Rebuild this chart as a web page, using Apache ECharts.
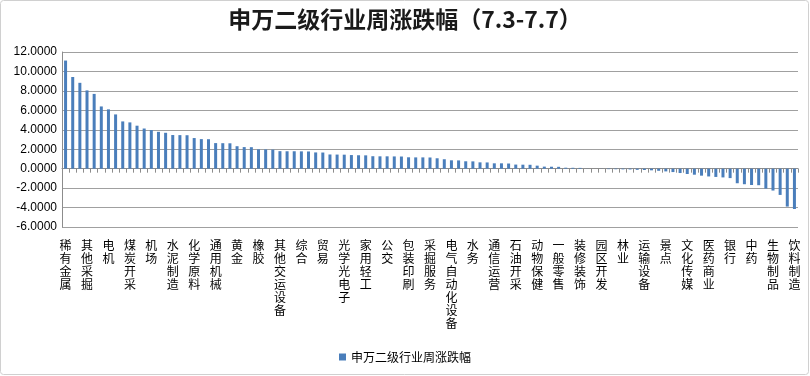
<!DOCTYPE html>
<html>
<head>
<meta charset="utf-8">
<script src="https://cdn.jsdelivr.net/npm/echarts@6/dist/echarts.min.js"></script>
<style>
  html, body { margin: 0; padding: 0; background: #fff; }
  #chart { width: 810px; height: 376px; }
</style>
</head>
<body>
<div id="chart"></div>
<script>
// 申万二级行业, sorted by weekly change
var industries = [
  '稀有金属', '工业金属', '金属非金属新材料', '其他采掘', '钢铁', '电源设备',
  '电机', '高低压设备', '玻璃制造', '煤炭开采', '石油化工', '化学纤维',
  '机场', '其他建材', '化学制品', '水泥制造', '塑料', '专用设备',
  '化学原料', '航空运输', '航运', '通用机械', '港口', '金属制品',
  '黄金', '仪器仪表', '汽车零部件', '橡胶', '汽车整车', '造纸',
  '其他交运设备', '电子制造', '元件', '综合', '半导体', '高速公路',
  '贸易', '其他电子', '铁路运输', '光学光电子', '白色家电', '视听器材',
  '家用轻工', '物流', '房地产开发', '公交', '纺织制造', '服装家纺',
  '包装印刷', '燃气', '电力', '采掘服务', '环保工程及服务', '专业零售',
  '电气自动化设备', '商业物业经营', '汽车服务', '水务', '基础建设', '房屋建设',
  '通信运营', '专业工程', '园林工程', '石油开采', '航天装备', '航空装备',
  '动物保健', '地面兵装', '船舶制造', '一般零售', '证券', '保险',
  '装修装饰', '多元金融', '种植业', '园区开发', '渔业', '饲料',
  '林业', '农产品加工', '农业综合', '运输设备', '畜禽养殖', '酒店',
  '景点', '旅游综合', '餐饮', '文化传媒', '其他休闲服务', '计算机设备',
  '医药商业', '计算机应用', '营销传播', '银行', '互联网传媒', '通信设备',
  '中药', '化学制药', '医疗器械', '生物制品', '医疗服务', '食品加工',
  '饮料制造'
];

var weeklyChange = [
  11.12, 9.43, 8.83, 8.05, 7.69, 6.40, 6.10, 5.58, 4.86, 4.76,
  4.42, 4.13, 3.97, 3.79, 3.69, 3.46, 3.45, 3.44, 3.15, 3.04,
  3.03, 2.63, 2.62, 2.61, 2.31, 2.22, 2.21, 1.99, 1.98, 1.96,
  1.80, 1.79, 1.79, 1.78, 1.77, 1.67, 1.66, 1.46, 1.45, 1.44,
  1.40, 1.38, 1.37, 1.28, 1.27, 1.27, 1.26, 1.25, 1.17, 1.16,
  1.16, 1.15, 1.07, 0.97, 0.86, 0.85, 0.76, 0.75, 0.65, 0.64,
  0.55, 0.55, 0.53, 0.42, 0.41, 0.40, 0.31, 0.21, 0.20, 0.19,
  0.10, 0.09, 0.08, 0.01, 0.00, -0.01, -0.05, -0.06, -0.07, -0.08,
  -0.12, -0.14, -0.17, -0.22, -0.28, -0.35, -0.45, -0.55, -0.62, -0.72,
  -0.80, -0.85, -0.90, -0.97, -1.50, -1.60, -1.68, -1.70, -2.05, -2.25,
  -2.70, -3.90, -4.15
];

var yTicks = { min: -6, max: 12, step: 2 };

var cjk = '"Noto Sans CJK SC", "Microsoft YaHei", sans-serif';

var chart = echarts.init(document.getElementById('chart'));

chart.setOption({
    backgroundColor: '#fff',
    animation: false,
    title: {
        text: '申万二级行业周涨跌幅（7.3-7.7）',
        left: 'center',
        top: 3,
        textStyle: {
            fontFamily: cjk,
            fontSize: 23,
            fontWeight: 'bold',
            color: '#1a1a1a'
        }
    },
    graphic: [{
        type: 'rect',
        shape: { x: 0.5, y: 0.5, width: 808, height: 374, r: 3 },
        style: { fill: 'none', stroke: '#d0d0d0', lineWidth: 1 },
        silent: true
    }],
    legend: {
        bottom: 8,
        left: 'center',
        itemWidth: 7,
        itemHeight: 7,
        icon: 'rect',
        textStyle: { fontFamily: cjk, fontSize: 12, color: '#000' },
        data: ['申万二级行业周涨跌幅']
    },
    grid: {
        left: 62,
        right: 12,
        top: 52,
        bottom: 149
    },
    xAxis: [{
        type: 'category',
        data: industries,
        axisLine: { onZero: true, lineStyle: { color: '#8c8c8c' } },
        axisTick: { show: true, interval: 0, length: 4, lineStyle: { color: '#8c8c8c' } },
        axisLabel: { show: false }
    }, {
        type: 'category',
        data: industries,
        position: 'bottom',
        axisLine: { show: false },
        axisTick: { show: false },
        axisLabel: {
            interval: 2,
            margin: 12,
            fontFamily: cjk,
            fontSize: 12,
            lineHeight: 13,
            color: '#000',
            verticalAlign: 'top',
            formatter: function (v) {
                return v.split('').join('\n');
            }
        }
    }],
    yAxis: {
        type: 'value',
        min: yTicks.min,
        max: yTicks.max,
        interval: yTicks.step,
        axisLine: { show: true, lineStyle: { color: '#8c8c8c' } },
        axisTick: { show: false },
        axisLabel: {
            fontFamily: '"Liberation Sans", Arial, sans-serif',
            fontSize: 12,
            color: '#000',
            margin: 5,
            formatter: function (v) {
                return v.toFixed(4);
            }
        },
        splitLine: { lineStyle: { color: '#a0a0a0', width: 1 } }
    },
    series: [{
        name: '申万二级行业周涨跌幅',
        type: 'bar',
        xAxisIndex: 0,
        barWidth: 3,
        itemStyle: { color: '#4a7ebb' },
        data: weeklyChange
    }]
});
</script>
</body>
</html>
